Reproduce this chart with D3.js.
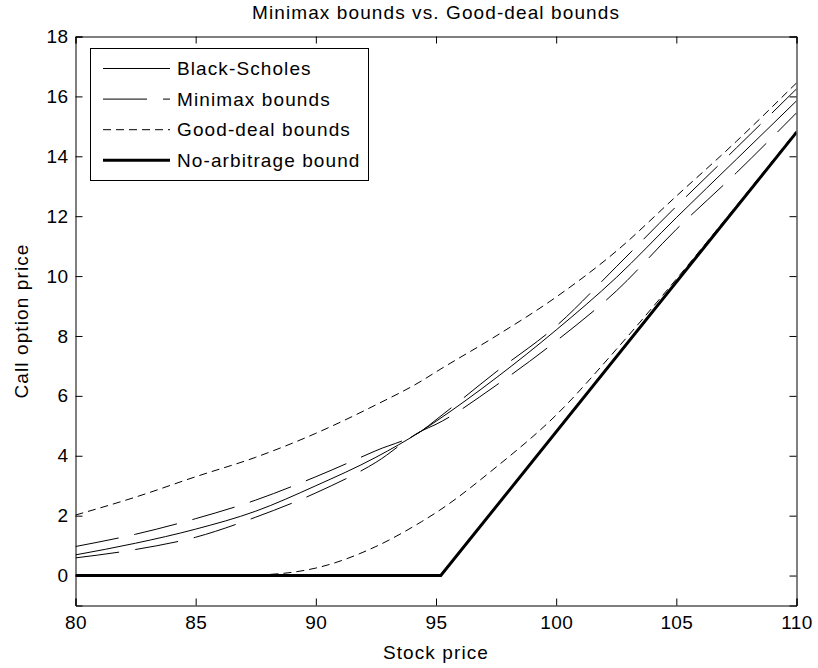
<!DOCTYPE html>
<html>
<head>
<meta charset="utf-8">
<script src="https://cdn.jsdelivr.net/npm/d3@7"></script>
<style>
	body{margin:0;background:#fff;}
	svg text{font-family:"Liberation Sans", Arial, sans-serif;fill:#000;}
</style>
</head>
<body>
<svg id="chart" width="818" height="668"></svg>
<script>
// values
const stockPrice = [80, 82.5, 85, 87.5, 90, 92.5, 94.4, 95, 97.5, 100, 102.5, 105, 107.5, 110];
const blackScholes = [0.69, 1.08, 1.55, 2.15, 3.0, 3.95, 4.83, 5.15, 6.6, 8.2, 9.95, 11.95, 13.9, 15.85];
const minimaxUpper = [0.97, 1.38, 1.9, 2.52, 3.3, 4.17, 4.83, 5.2, 6.8, 8.33, 10.31, 12.33, 14.28, 16.25];
const minimaxLower = [0.59, 0.87, 1.28, 1.95, 2.76, 3.78, 4.83, 5.05, 6.35, 7.83, 9.5, 11.56, 13.45, 15.45];
const goodDealUpper = [2.02, 2.62, 3.3, 3.95, 4.75, 5.7, 6.5, 6.8, 8.0, 9.3, 10.83, 12.67, 14.5, 16.45];
const goodDealLower = [0, 0, 0, 0.02, 0.25, 0.97, 1.8, 2.1, 3.62, 5.36, 7.55, 9.9, 12.35, 14.85];
const noArbPrice = [80, 95.2, 110];
const noArbBound = [0, 0, 14.8];

const xTicks = [80, 85, 90, 95, 100, 105, 110];
const yTicks = [0, 2, 4, 6, 8, 10, 12, 14, 16, 18];
const legendLabels = ['Black-Scholes', 'Minimax bounds', 'Good-deal bounds', 'No-arbitrage bound'];

function draw(){
	var svg = d3.select('#chart');
	var pLeft = 75.5, pRight = 796.5, pTop = 36.5, pBottom = 605.5;

	var x = d3.scaleLinear().domain([80, 110]).range([pLeft, pRight]);
	var y = d3.scaleLinear().domain([-1, 18]).range([pBottom, pTop]);

	var styles = {
		solid: {dash: null, width: 1},
		long: {dash: '44,16', width: 1},
		short: {dash: '8,5', width: 1},
		thick: {dash: null, width: 3}
	};

	svg.append('defs').append('clipPath').attr('id', 'clip')
		.append('rect').attr('x', pLeft).attr('y', pTop).attr('width', pRight - pLeft).attr('height', pBottom - pTop);

	var plot = svg.append('g').attr('clip-path', 'url(#clip)');

	var smooth = d3.line().x(d => x(d[0])).y(d => y(d[1])).curve(d3.curveMonotoneX);
	var straight = d3.line().x(d => x(d[0])).y(d => y(d[1]));

	function addLine(xs, ys, st, gen){
		plot.append('path')
			.attr('d', gen(d3.zip(xs, ys)))
			.attr('fill', 'none')
			.attr('stroke', '#000')
			.attr('stroke-width', st.width)
			.attr('stroke-dasharray', st.dash);
	}

	addLine(stockPrice, goodDealUpper, styles.short, smooth);
	addLine(stockPrice, goodDealLower, styles.short, smooth);
	addLine(stockPrice, minimaxUpper, styles.long, smooth);
	addLine(stockPrice, minimaxLower, styles.long, smooth);
	addLine(stockPrice, blackScholes, styles.solid, smooth);
	addLine(noArbPrice, noArbBound, styles.thick, straight);

	// axes, ticks pointing inwards on all four sides
	var tick = 7;
	var gx = svg.append('g').attr('transform', 'translate(0,' + pBottom + ')')
		.call(d3.axisBottom(x).tickValues(xTicks).tickSize(-tick).tickPadding(10));
	svg.append('g').attr('transform', 'translate(0,' + pTop + ')')
		.call(d3.axisTop(x).tickValues(xTicks).tickSize(-tick).tickFormat(''));
	svg.append('g').attr('transform', 'translate(' + pLeft + ',0)')
		.call(d3.axisLeft(y).tickValues(yTicks).tickSize(-tick).tickPadding(7));
	svg.append('g').attr('transform', 'translate(' + pRight + ',0)')
		.call(d3.axisRight(y).tickValues(yTicks).tickSize(-tick).tickFormat(''));

	svg.selectAll('.domain').attr('stroke', '#000').attr('stroke-width', 1);
	svg.selectAll('.tick line').attr('stroke', '#000');
	svg.selectAll('.tick text').style('font-size', '19px').style('letter-spacing', '0.4px')
		.style('font-family', '"Liberation Sans", Arial, sans-serif');
	gx.selectAll('.tick text').attr('dy', '0.71em');

	// title and labels
	svg.append('text')
		.attr('x', (pLeft + pRight) / 2).attr('y', 19)
		.style('text-anchor', 'middle').style('font-size', '19px').style('letter-spacing', '1.1px')
		.text('Minimax bounds vs. Good-deal bounds');

	svg.append('text')
		.attr('x', (pLeft + pRight) / 2).attr('y', 659)
		.style('text-anchor', 'middle').style('font-size', '19px').style('letter-spacing', '1.1px')
		.text('Stock price');

	svg.append('text')
		.attr('transform', 'translate(28,' + (pTop + pBottom) / 2 + ') rotate(-90)')
		.style('text-anchor', 'middle').style('font-size', '19px').style('letter-spacing', '1.1px')
		.text('Call option price');

	// legend
	var legend = svg.append('g');
	legend.append('rect')
		.attr('x', 90.5).attr('y', 48.5).attr('width', 278).attr('height', 132)
		.attr('fill', '#fff').attr('stroke', '#000').attr('stroke-width', 1);

	var legendStyles = [styles.solid, styles.long, styles.short, styles.thick];
	legendLabels.forEach((lab, i) => {
		var ly = 68.5 + i * 30.6;
		legend.append('line')
			.attr('x1', 103).attr('x2', 170).attr('y1', ly).attr('y2', ly)
			.attr('stroke', '#000')
			.attr('stroke-width', legendStyles[i].width)
			.attr('stroke-dasharray', legendStyles[i].dash);
		legend.append('text')
			.attr('x', 177).attr('y', ly).attr('dy', '0.35em')
			.style('font-size', '19px').style('letter-spacing', '1.1px')
			.text(lab);
	});
}

draw();
</script>
</body>
</html>
